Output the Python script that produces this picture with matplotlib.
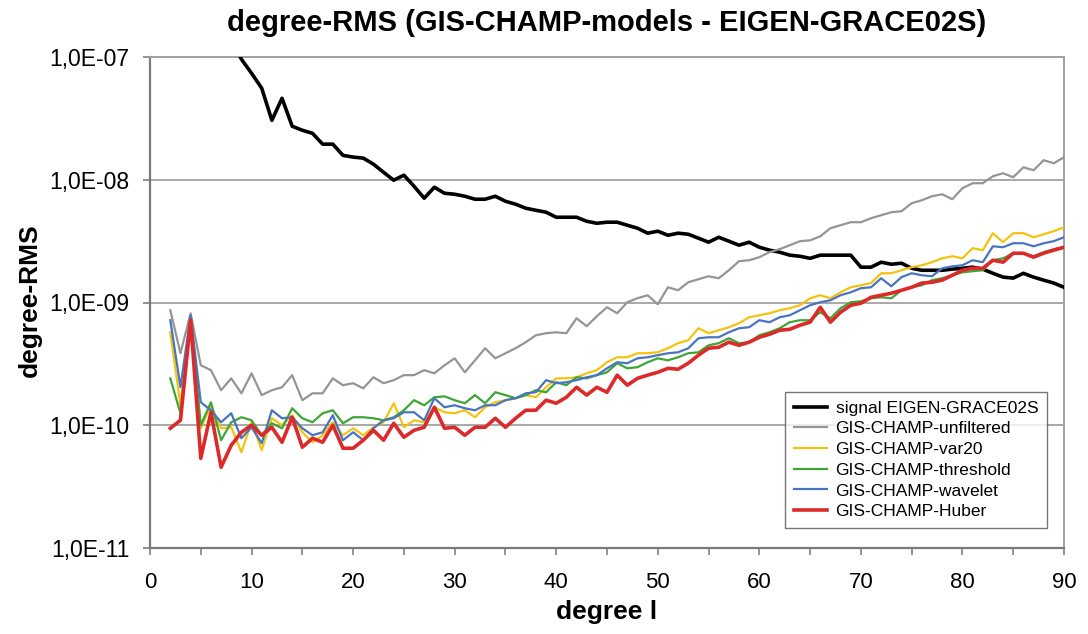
import matplotlib
matplotlib.use("Agg")
import matplotlib.pyplot as plt
import numpy as np
from matplotlib.ticker import FixedLocator, FuncFormatter, MultipleLocator, NullLocator

plt.rcParams["font.family"] = ["Liberation Sans", "DejaVu Sans"]

# degree l = 2 .. 90, values in units of 1e-10
degrees = np.arange(2, 91)
unit = 1e-10

signal_eigen = [
    11000, 8500, 5600, 3400, 2600, 1900, 1400, 959, 737,
    557, 305, 461, 273, 253, 239, 195, 195, 158, 153,
    150, 134, 115, 99.1, 109, 88.5, 70.7, 86.9, 77.6, 76.2,
    73.4, 69.4, 69.4, 73.4, 66.8, 63.2, 58.6, 56.4, 54.4, 49.5,
    49.5, 49.5, 45.9, 44.2, 45.1, 45.1, 42.6, 40.3, 36.7, 38.1,
    35.3, 36.7, 36.0, 33.4, 31.0, 34.0, 31.6, 29.3, 31.0, 28.2,
    26.7, 25.7, 24.3, 23.8, 22.9, 24.3, 24.3, 24.3, 24.3, 19.4,
    19.4, 21.3, 20.5, 20.9, 19.0, 18.3, 18.3, 18.3, 18.7, 19.0,
    19.4, 18.7, 17.3, 16.1, 15.8, 17.3, 16.1, 15.2, 14.4, 13.3,
]
unfiltered = [
    8.65, 3.86, 8.17, 3.08, 2.81, 1.93, 2.41, 1.82, 2.65,
    1.76, 1.93, 2.04, 2.56, 1.60, 1.82, 1.82, 2.41, 2.12, 2.20,
    2.00, 2.46, 2.20, 2.33, 2.56, 2.56, 2.81, 2.65, 3.08, 3.51,
    2.70, 3.38, 4.24, 3.51, 3.86, 4.24, 4.75, 5.41, 5.62, 5.72,
    5.62, 7.44, 6.41, 7.73, 9.15, 8.17, 10.05, 10.83, 11.46, 9.68,
    13.31, 12.58, 14.62, 15.47, 16.36, 15.76, 18.3, 21.7, 22.1, 23.4,
    25.7, 27.2, 29.3, 31.6, 32.1, 34.6, 40.3, 42.6, 45.1, 45.1,
    48.6, 51.4, 54.4, 55.4, 64.4, 68.1, 73.4, 76.2, 69.4, 85.3,
    93.7, 93.7, 106.8, 113.0, 104.8, 126.4, 119.5, 144.2, 136.3, 152.5,
]
var20 = [
    5.72, 1.455, 7.44, 0.945, 1.455, 0.945, 0.963, 0.603, 1.058,
    0.626, 1.140, 1.00, 1.206, 0.877, 0.727, 0.829, 1.058, 0.829, 0.945,
    0.829, 0.963, 1.058, 1.511, 0.963, 1.098, 1.058, 1.402, 1.276, 1.252,
    1.325, 1.162, 1.402, 1.54, 1.60, 1.66, 1.76, 1.691, 2.04, 2.41,
    2.41, 2.46, 2.65, 2.81, 3.26, 3.58, 3.58, 3.86, 3.86, 3.93,
    4.24, 4.66, 4.93, 6.17, 5.62, 5.94, 6.29, 6.78, 7.58, 7.87,
    8.17, 8.65, 8.98, 9.50, 10.83, 11.46, 10.83, 12.12, 13.31, 13.82,
    14.4, 17.3, 17.3, 18.3, 19.4, 20.1, 21.3, 22.9, 23.8, 22.9,
    27.7, 26.7, 36.7, 31.0, 36.7, 36.7, 34.0, 36.0, 38.1, 41.0,
]
threshold = [
    2.41, 1.252, 7.44, 1.00, 1.54, 0.755, 1.058, 1.162, 1.098,
    0.829, 1.038, 0.945, 1.375, 1.140, 1.058, 1.252, 1.325, 1.038, 1.162,
    1.162, 1.140, 1.098, 1.162, 1.325, 1.60, 1.455, 1.691, 1.72, 1.60,
    1.511, 1.76, 1.511, 1.857, 1.76, 1.66, 1.76, 1.93, 1.857, 2.24,
    2.12, 2.46, 2.41, 2.56, 2.70, 3.20, 2.91, 2.97, 3.26, 3.51,
    3.38, 3.58, 3.86, 3.93, 4.48, 4.66, 5.11, 4.66, 4.75, 5.41,
    5.72, 6.17, 6.91, 7.17, 7.17, 8.33, 7.44, 8.98, 10.05, 10.24,
    10.83, 11.03, 10.83, 12.58, 13.31, 13.82, 15.2, 15.76, 16.67, 17.6,
    18.0, 18.3, 22.1, 22.9, 25.2, 25.2, 23.8, 25.7, 27.2, 28.2,
]
wavelet = [
    7.17, 2.04, 7.87, 1.54, 1.325, 1.058, 1.252, 0.784, 0.963,
    0.713, 1.325, 1.140, 1.162, 0.945, 0.829, 0.877, 1.206, 0.755, 0.877,
    0.755, 0.945, 1.098, 1.140, 1.276, 1.276, 1.098, 1.66, 1.402, 1.455,
    1.375, 1.325, 1.455, 1.455, 1.60, 1.66, 1.82, 1.857, 2.33, 2.20,
    2.24, 2.33, 2.46, 2.56, 2.91, 3.26, 3.20, 3.51, 3.58, 3.72,
    3.86, 3.93, 4.24, 5.11, 5.21, 5.21, 5.72, 6.17, 6.29, 7.17,
    6.91, 7.58, 7.87, 8.65, 9.50, 10.05, 10.43, 11.46, 12.12, 13.07,
    13.31, 15.76, 13.56, 16.1, 17.3, 16.67, 16.36, 19.0, 19.7, 20.1,
    22.1, 21.3, 28.7, 28.2, 30.4, 30.4, 28.7, 30.4, 31.6, 34.0,
]
huber = [
    0.945, 1.098, 7.17, 0.538, 1.276, 0.455, 0.687, 0.877, 1.00,
    0.829, 0.963, 0.727, 1.162, 0.662, 0.784, 0.727, 1.00, 0.650, 0.650,
    0.755, 0.910, 0.755, 1.038, 0.798, 0.910, 0.963, 1.402, 0.945, 0.963,
    0.829, 0.963, 0.963, 1.140, 0.963, 1.140, 1.325, 1.325, 1.60, 1.511,
    1.691, 2.04, 1.76, 2.04, 1.857, 2.56, 2.12, 2.41, 2.56, 2.70,
    2.91, 2.86, 3.20, 3.72, 4.24, 4.32, 4.75, 4.48, 4.75, 5.21,
    5.51, 5.94, 6.05, 6.53, 6.91, 9.15, 6.91, 8.33, 9.50, 9.86,
    11.03, 11.46, 11.90, 12.58, 13.31, 14.4, 14.62, 15.2, 16.67, 18.3,
    19.0, 19.0, 22.1, 21.3, 25.2, 25.2, 23.4, 25.2, 26.7, 28.2,
]

series = [
    ("signal EIGEN-GRACE02S", signal_eigen, "#000000", 2.6),
    ("GIS-CHAMP-unfiltered", unfiltered, "#959595", 1.6),
    ("GIS-CHAMP-var20", var20, "#f2c40f", 1.6),
    ("GIS-CHAMP-threshold", threshold, "#3fa535", 1.6),
    ("GIS-CHAMP-wavelet", wavelet, "#4a74c0", 1.6),
    ("GIS-CHAMP-Huber", huber, "#dc2a2a", 2.6),
]


def sci_comma(v, pos):
    exp = int(round(np.log10(v)))
    return f"1,0E-{abs(exp):02d}"


fig = plt.figure(figsize=(10.88, 6.34), dpi=100)
ax = fig.add_axes([150 / 1088, 1 - 548 / 634, 914 / 1088, 491 / 634])

for i, (name, vals, color, lw) in enumerate(series):
    ax.plot(degrees, np.array(vals) * unit, color=color, lw=lw, label=name,
            zorder=3 + i)

ax.set_yscale("log")
ax.set_xlim(0, 90)
ax.set_ylim(1e-11, 1e-7)

ax.yaxis.set_major_locator(FixedLocator([1e-11, 1e-10, 1e-9, 1e-8, 1e-7]))
ax.yaxis.set_minor_locator(NullLocator())
ax.yaxis.set_major_formatter(FuncFormatter(sci_comma))
ax.xaxis.set_major_locator(MultipleLocator(10))
ax.xaxis.set_minor_locator(MultipleLocator(5))

ax.grid(axis="y", which="major", color="#a8a8a8", lw=1.4, zorder=1)
ax.tick_params(axis="both", which="both", direction="out", length=5,
               width=1.2, color="#808080")
ax.tick_params(axis="y", labelsize=16.5, pad=10)
ax.tick_params(axis="x", labelsize=16, pad=12)

for side in ["left", "bottom"]:
    ax.spines[side].set_color("#7a7a7a")
    ax.spines[side].set_linewidth(1.6)
for side in ["top", "right"]:
    ax.spines[side].set_color("#a0a0a0")
    ax.spines[side].set_linewidth(1.4)

leg = ax.legend(loc="upper left", bbox_to_anchor=(0.695, 0.318),
                borderaxespad=0, fontsize=12.5, frameon=True, fancybox=False,
                handlelength=1.9, handletextpad=0.5, labelspacing=0.32,
                borderpad=0.5)
leg.get_frame().set_edgecolor("#555555")
leg.get_frame().set_linewidth(1.0)
leg.set_zorder(20)

fig.text(607 / 1088, 1 - 23 / 634, "degree-RMS (GIS-CHAMP-models - EIGEN-GRACE02S)",
         ha="center", va="center", fontsize=21, fontweight="bold")
fig.text(30 / 1088, 1 - 300 / 634, "degree-RMS", rotation=90,
         ha="center", va="center", fontsize=19, fontweight="bold")
fig.text(607 / 1088, 1 - 612 / 634, "degree l",
         ha="center", va="center", fontsize=19, fontweight="bold")

fig.savefig("out.png", dpi=100)
